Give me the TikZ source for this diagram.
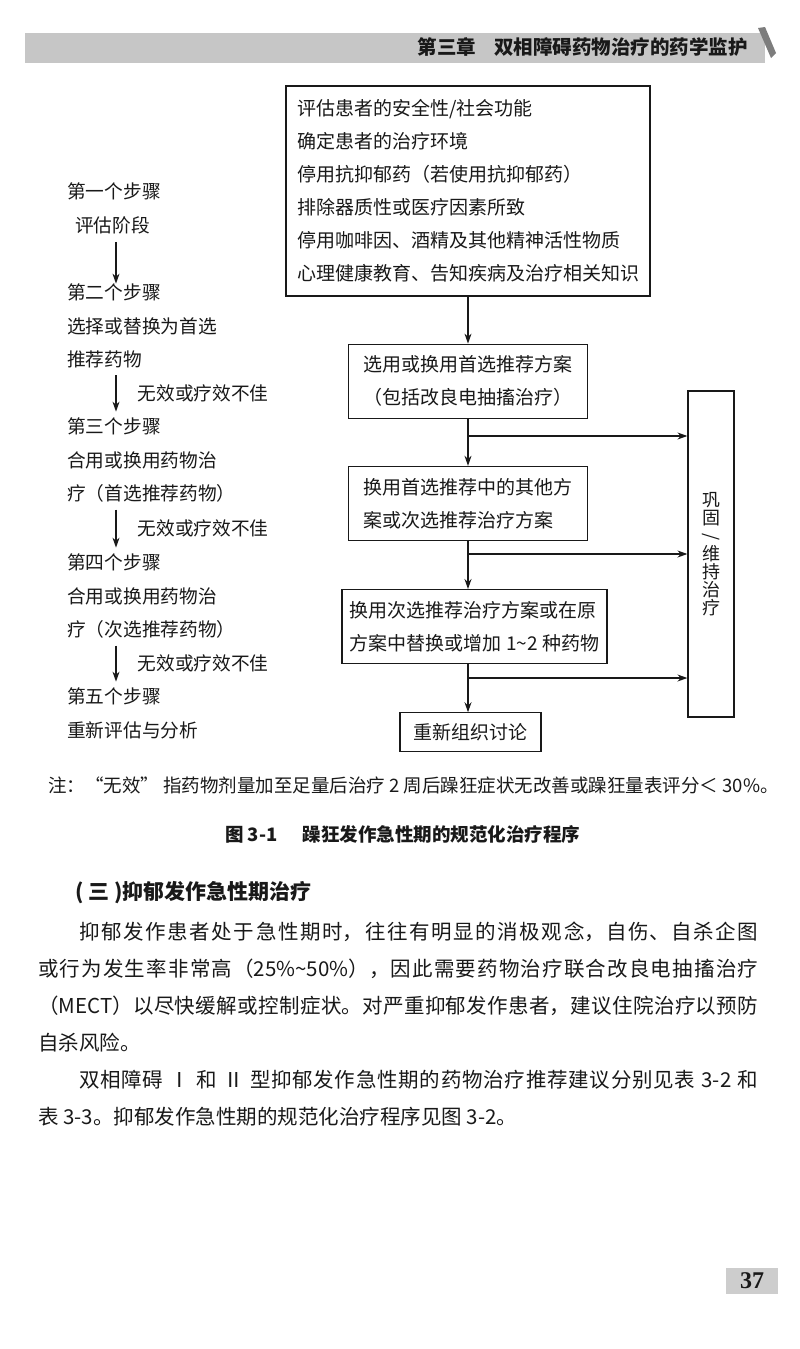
\documentclass[tikz,border=0pt]{standalone}
\usepackage{fontspec}
\usepackage{graphicx}
\setmainfont{Noto Sans CJK SC}
\newfontfamily\numfont{Liberation Serif}
\usetikzlibrary{positioning, arrows.meta, calc}
\XeTeXlinebreaklocale "zh"
\XeTeXlinebreakskip=0pt plus 1pt
\definecolor{ink}{RGB}{25,25,25}
\definecolor{bargrey}{RGB}{198,198,198}
\definecolor{foldgrey}{RGB}{125,125,125}
\definecolor{numgrey}{RGB}{205,205,205}
\newcommand{\cjksize}[2]{\fontsize{#1}{#2}\selectfont}

\begin{document}
\begin{tikzpicture}[
    x=1pt, y=-1pt,
    every node/.style={text=ink, inner sep=0pt},
    box/.style={draw=ink, line width=1.2pt, inner sep=0pt, font=\cjksize{19}{33}},
    steplbl/.style={font=\cjksize{18.7}{33.5}, align=left, anchor=north west},
    faillbl/.style={font=\cjksize{18.7}{20}, anchor=west},
    flow/.style={-{Stealth[length=10pt,width=7pt]}, line width=1.2pt, draw=ink},
    stepflow/.style={flow, shorten <=7pt, shorten >=6pt},
    body/.style={font=\cjksize{20.5}{37}, anchor=north west, text width=720pt, align=justify},
]
\useasboundingbox (0,0) rectangle (800,1349);
\fill[white] (0,0) rectangle (800,1349);

% ------------------------------------------------------------ header ---
\fill[bargrey] (25,33) rectangle (765,63);
\fill[foldgrey] (758,28) -- (765,27) -- (776,53) -- (771,58) -- cycle;
\node[font=\bfseries\cjksize{19.5}{22}, anchor=east] (chapter) at (748,47) {第三章\hspace{18pt}双相障碍药物治疗的药学监护};

% ------------------------------------------------------- left column ---
\coordinate (lx) at (116,0);
\node[steplbl] (step1) at (67,182.6) {第一个步骤\\\hspace*{8pt}评估阶段};
\node[steplbl] (step2) at (67,283.6) {第二个步骤\\选择或替换为首选\\推荐药物};
\node[steplbl] (step3) at (67,417.6) {第三个步骤\\合用或换用药物治\\疗（首选推荐药物）};
\node[steplbl] (step4) at (67,553.6) {第四个步骤\\合用或换用药物治\\疗（次选推荐药物）};
\node[steplbl] (step5) at (67,687.6) {第五个步骤\\重新评估与分析};

\draw[flow, shorten <=8pt] (step1.south -| lx) -- (step2.north -| lx);
\draw[stepflow] (step2.south -| lx) -- node[faillbl, xshift=21pt] (fail1) {无效或疗效不佳} (step3.north -| lx);
\draw[stepflow] (step3.south -| lx) -- node[faillbl, xshift=21pt] (fail2) {无效或疗效不佳} (step4.north -| lx);
\draw[stepflow] (step4.south -| lx) -- node[faillbl, xshift=21pt] (fail3) {无效或疗效不佳} (step5.north -| lx);

% --------------------------------------------------------- flow boxes ---
\node[box, minimum width=364pt, minimum height=210pt, align=left] (assess) at (468,191)
  {评估患者的安全性/社会功能\\确定患者的治疗环境\\停用抗抑郁药（若使用抗抑郁药）\\排除器质性或医疗因素所致\\停用咖啡因、酒精及其他精神活性物质\\心理健康教育、告知疾病及治疗相关知识};
\node[box, minimum width=239pt, minimum height=74pt, align=left, below=47pt of assess] (firstline)
  {选用或换用首选推荐方案\\（包括改良电抽搐治疗）};
\node[box, minimum width=239pt, minimum height=74pt, align=left, below=47pt of firstline] (otherplan)
  {换用首选推荐中的其他方\\案或次选推荐治疗方案};
\node[box, minimum width=265pt, minimum height=74pt, align=left, below=48pt of otherplan, xshift=6.5pt] (secondplan)
  {换用次选推荐治疗方案或在原\\方案中替换或增加 1\textasciitilde 2 种药物};
\node[box, minimum width=141pt, minimum height=39pt, below=48pt of secondplan, xshift=-4pt] (rediscuss) {重新组织讨论};

\node[box, minimum width=46pt, minimum height=326pt, align=center, font=\cjksize{18}{18}] (keep) at (711,554)
  {巩\\固\\\rotatebox[origin=c]{-90}{/}\\维\\持\\治\\疗};

\draw[flow] (assess.south) -- (firstline.north);
\draw[flow] (firstline.south) -- (otherplan.north);
\draw[flow] (otherplan.south) -- (otherplan.south |- secondplan.north);
\draw[flow] (otherplan.south |- secondplan.south) -- (otherplan.south |- rediscuss.north);

\coordinate (j1) at (468,436);
\coordinate (j2) at (468,554);
\coordinate (j3) at (468,678);
\draw[flow] (j1) -- (j1 -| keep.west);
\draw[flow] (j2) -- (j2 -| keep.west);
\draw[flow] (j3) -- (j3 -| keep.west);

% ------------------------------------------------------ note, caption ---
\node[font=\cjksize{18.5}{20}, anchor=west] (note) at (48,785)
  {注：“无效” 指药物剂量加至足量后治疗 2 周后躁狂症状无改善或躁狂量表评分＜ 30\%。};
\node[font=\bfseries\cjksize{18.5}{20}, anchor=west] (caption) at (225,834)
  {图 3-1\hspace{25pt}躁狂发作急性期的规范化治疗程序};

% -------------------------------------------------------------- body ---
\node[font=\bfseries\cjksize{21}{24}, anchor=west] (heading) at (75,893) {( 三 )抑郁发作急性期治疗};
\node[body] (para) at (38,921.7) {%
\hspace*{2em}抑郁发作患者处于急性期时，往往有明显的消极观念，自伤、自杀企图\linebreak
或行为发生率非常高（25\%\textasciitilde 50\%），因此需要药物治疗联合改良电抽搐治疗\linebreak
（MECT）以尽快缓解或控制症状。对严重抑郁发作患者，建议住院治疗以预防\linebreak
自杀风险。\par
\hspace*{2em}双相障碍 Ⅰ 和 Ⅱ 型抑郁发作急性期的药物治疗推荐建议分别见表 3-2 和\linebreak
表 3-3。抑郁发作急性期的规范化治疗程序见图 3-2。};

\node[fill=numgrey, minimum width=52pt, minimum height=26pt, font=\numfont\bfseries\fontsize{24}{24}\selectfont] (pageno) at (752,1281) {37};

\end{tikzpicture}
\end{document}
